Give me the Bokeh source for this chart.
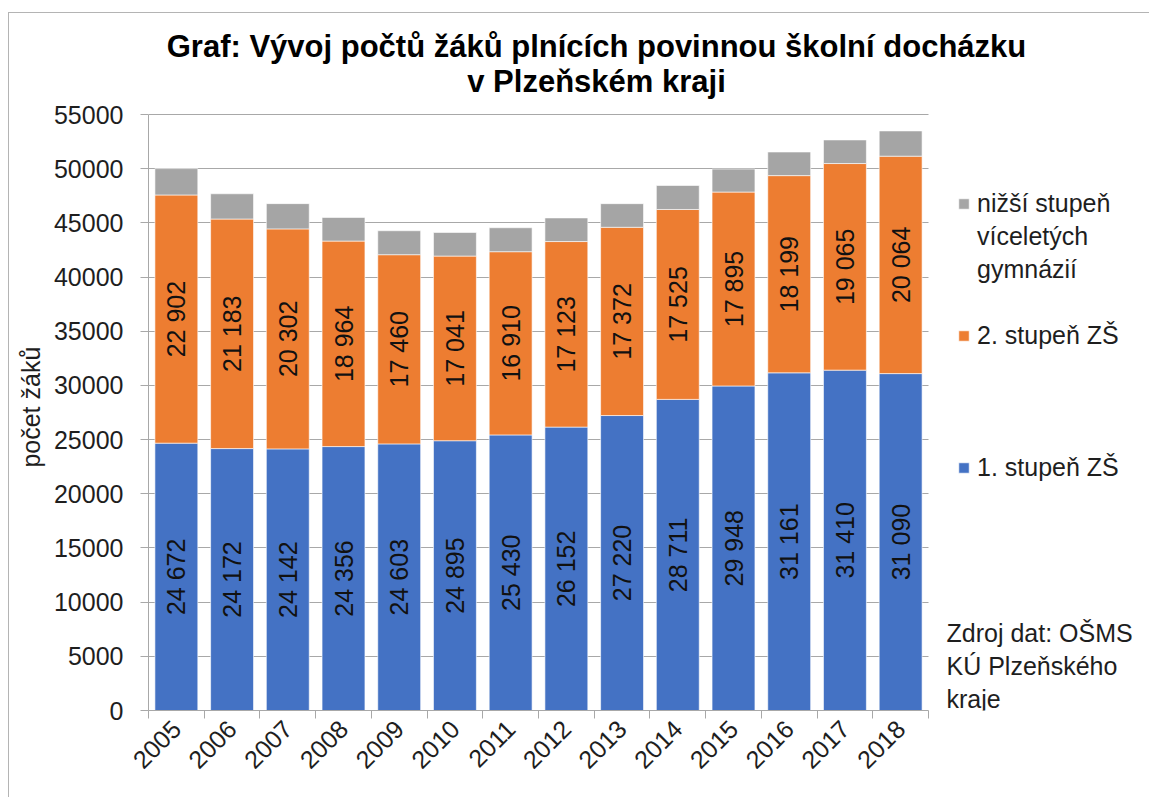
import math
from bokeh.plotting import figure
from bokeh.models import (ColumnDataSource, Range1d, FixedTicker, Label, Legend, LegendItem, BoxAnnotation)
from bokeh.core.properties import value
from bokeh.embed import file_html
from bokeh.resources import INLINE

# ---- data ----
years = [2005, 2006, 2007, 2008, 2009, 2010, 2011, 2012, 2013, 2014, 2015, 2016, 2017, 2018]
stupen1 = [24672, 24172, 24142, 24356, 24603, 24895, 25430, 26152, 27220, 28711, 29948, 31161, 31410, 31090]
stupen2 = [22902, 21183, 20302, 18964, 17460, 17041, 16910, 17123, 17372, 17525, 17895, 18199, 19065, 20064]
gymnazia = [2430, 2330, 2330, 2180, 2210, 2180, 2210, 2180, 2180, 2210, 2120, 2180, 2180, 2330]
series_names = ["1. stupeň ZŠ", "2. stupeň ZŠ", "nižší stupeň"]
gray_extra_lines = ["víceletých", "gymnázií"]
colors = ["#4472C4", "#ED7D31", "#A5A5A5"]
title_lines = ["Graf: Vývoj počtů žáků plnících povinnou školní docházku", "v Plzeňském kraji"]
source_lines = ["Zdroj dat: OŠMS", "KÚ Plzeňského", "kraje"]
y_label = "počet žáků"
Y_MAX = 55000

FONT = "Liberation Sans"
TXT = "#1e1e1e"
GRID = "#a8a8a8"

def fmt(v):
    return f"{v:,}".replace(",", " ")

idx = list(range(len(years)))
src = ColumnDataSource(dict(
    x=idx, s1=stupen1, s2=stupen2, s3=gymnazia,
    mid1=[a / 2 for a in stupen1],
    mid2=[a + b / 2 for a, b in zip(stupen1, stupen2)],
    lab1=[fmt(v) for v in stupen1],
    lab2=[fmt(v) for v in stupen2],
))

# page-pixel layout of the bar area in the original
FR_L, FR_R, FR_T, FR_B = 148, 928, 114, 710
OX, OY = 9, 13          # canvas origin on the page (margin + 1px border)
W, H = 1141, 785
PAGE_R, PAGE_T = OX + W, OY   # the drawing area is extended to the right and top edges
n = len(years)
x_end = -0.5 + (PAGE_R - FR_L) / (FR_R - FR_L) * n
y_end = Y_MAX * (FR_B - PAGE_T) / (FR_B - FR_T)

def dx(px):
    return (px - FR_L) / (FR_R - FR_L) * n - 0.5
def dy(py):
    return (FR_B - py) / (FR_B - FR_T) * Y_MAX

p = figure(width=W, height=H, output_backend="svg", toolbar_location=None,
           x_range=Range1d(-0.5, x_end), y_range=Range1d(0, y_end),
           min_border_left=FR_L - OX, min_border_right=0,
           min_border_top=0, min_border_bottom=H - (FR_B - OY))
p.styles = {"margin-left": "8px", "margin-top": "12px",
            "border-left": "1px solid #b4b4b4", "border-top": "1px solid #b4b4b4"}
p.outline_line_color = None
p.background_fill_color = "white"
p.border_fill_color = "white"

p.xgrid.grid_line_color = None
p.ygrid.grid_line_color = GRID
p.ygrid.grid_line_width = 1.2
# keep the horizontal grid inside the bar area only
p.add_layout(BoxAnnotation(left=n - 0.5, fill_color="white", fill_alpha=1.0,
                           line_alpha=0, level="underlay"))

renderers = p.vbar_stack(["s1", "s2", "s3"], x="x", width=0.77, color=colors, source=src,
                         line_color="white", line_width=0.6)
# empty helper renderer: only used for text-only legend rows
blank = p.scatter(x=[], y=[], marker="square", fill_alpha=0, line_alpha=0)

# data labels
for ycol, tcol in (("mid1", "lab1"), ("mid2", "lab2")):
    p.text(x="x", y=ycol, text=tcol, source=src, angle=math.pi / 2,
           text_align="center", text_baseline="middle",
           text_font=value(FONT), text_font_size="25px", text_color="#111111")

# axes
p.yaxis.ticker = FixedTicker(ticks=list(range(0, Y_MAX + 1, 5000)))
p.yaxis.bounds = (0, Y_MAX)
p.yaxis.major_label_text_font = FONT
p.yaxis.major_label_text_font_size = "25px"
p.yaxis.major_label_text_color = TXT
p.yaxis.axis_line_color = GRID
p.yaxis.major_tick_line_color = GRID
p.yaxis.major_tick_out = 8
p.yaxis.major_tick_in = 0
p.yaxis.minor_tick_line_color = None
p.yaxis.major_label_standoff = 17
# trailing no-break spaces move the centred label down to the middle of the bar area
p.yaxis.axis_label = y_label + "\u00a0" * 13
p.yaxis.axis_label_text_font = FONT
p.yaxis.axis_label_text_font_style = "normal"
p.yaxis.axis_label_text_font_size = "25px"
p.yaxis.axis_label_text_color = TXT
p.yaxis.axis_label_standoff = 6

p.xaxis.ticker = FixedTicker(ticks=idx, minor_ticks=[i - 0.5 for i in range(n + 1)])
p.xaxis.bounds = (-0.5, n - 0.5)
p.xaxis.major_label_overrides = {i: str(y) for i, y in zip(idx, years)}
p.xaxis.major_label_orientation = math.pi / 4
p.xaxis.major_label_text_font = FONT
p.xaxis.major_label_text_font_size = "25px"
p.xaxis.major_label_text_color = TXT
p.xaxis.major_tick_line_color = None
p.xaxis.minor_tick_line_color = GRID
p.xaxis.minor_tick_out = 8
p.xaxis.minor_tick_in = 0
p.xaxis.axis_line_color = GRID
p.xaxis.major_label_standoff = 6

# title (two centred lines)
for line, py in zip(title_lines, (46, 81)):
    p.add_layout(Label(x=dx(596), y=dy(py), text=line, text_align="center", text_baseline="middle",
                       text_font=FONT, text_font_size="31px", text_font_style="bold",
                       text_color="#000000"))

# legend, rows on a 33px pitch like the original
rows = [(series_names[2], renderers[2])] + [(t, blank) for t in gray_extra_lines] + [(" ", blank)] \
     + [(series_names[1], renderers[1])] + [(" ", blank)] * 3 + [(series_names[0], renderers[0])]
ROW = 33
leg_top = 203 - ROW / 2
leg_bottom = leg_top + ROW * len(rows)
legend = Legend(items=[LegendItem(label=t, renderers=[r]) for t, r in rows],
                location=(957 - FR_L, FR_B - leg_bottom), padding=0, margin=0, spacing=0,
                border_line_color=None, background_fill_alpha=0,
                label_text_font=FONT, label_text_font_size="25px", label_text_color=TXT,
                glyph_width=13, glyph_height=13, label_standoff=7, label_height=ROW)
p.add_layout(legend, "center")

# source note (right side, kept inside the drawing area so no line is clipped)
for line, py in zip(source_lines, (632, 665, 698)):
    p.add_layout(Label(x=dx(946), y=dy(py), text=line, text_align="left",
                       text_baseline="middle", text_font=FONT, text_font_size="25px",
                       text_color=TXT))

open("out.html", "w").write(file_html(p, INLINE))
